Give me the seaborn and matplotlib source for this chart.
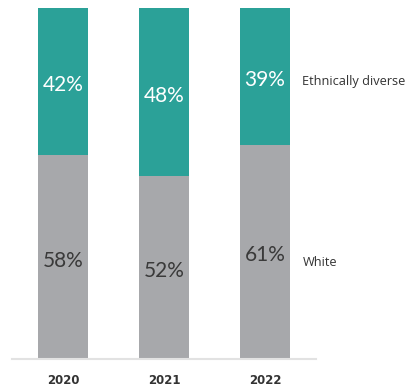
import matplotlib
matplotlib.use("Agg")
import matplotlib.pyplot as plt
import seaborn as sns
import pandas as pd

years = ["2020", "2021", "2022"]
white = [58, 52, 61]
diverse = [42, 48, 39]
series_labels = ["Ethnically diverse", "White"]

teal = "#2ba198"
gray = "#a7a8ab"

sns.set_style("white")
plt.rcParams['font.family'] = ['Lato', 'DejaVu Sans']

df = pd.DataFrame({"year": years, "white": white, "diverse": diverse})
df["total"] = df["white"] + df["diverse"]

fig = plt.figure(figsize=(4.10, 3.86), dpi=100)
ax = fig.add_axes([12/410, 27/386, 304/410, 351/386])

sns.barplot(data=df, x="year", y="total", color=teal, width=0.495,
            saturation=1, ax=ax, linewidth=0)
sns.barplot(data=df, x="year", y="white", color=gray, width=0.495,
            saturation=1, ax=ax, linewidth=0)

ax.set_xlim(-0.505, 2.505)
ax.set_ylim(0, 100)

for i, (w, d) in enumerate(zip(white, diverse)):
    ax.text(i, w / 2 - 1, f"{w}%", ha="center", va="center", fontsize=15,
            color="#3a3a3a")
    ax.text(i, w + d / 2 - 1, f"{d}%", ha="center", va="center", fontsize=15,
            color="white")

ax.text(0.955, 0.792, series_labels[0], transform=ax.transAxes, ha="left",
        va="center", fontsize=9.2, color="#333333", clip_on=False,
        family=["Open Sans", "DejaVu Sans"])
ax.text(0.955, 0.276, series_labels[1], transform=ax.transAxes, ha="left",
        va="center", fontsize=9.2, color="#333333", clip_on=False,
        family=["Open Sans", "DejaVu Sans"])

ax.set_xlabel("")
ax.set_ylabel("")
ax.set_yticks([])
ax.tick_params(axis="x", length=0, pad=11)
for lbl in ax.get_xticklabels():
    lbl.set_fontweight("bold")
    lbl.set_fontsize(8.5)
    lbl.set_color("#333333")
    lbl.set_family(["DejaVu Sans"])
for s in ["top", "left", "right"]:
    ax.spines[s].set_visible(False)
ax.spines["bottom"].set_color("#e2e2e2")
ax.spines["bottom"].set_linewidth(1.5)

fig.savefig("out.png", dpi=100)
